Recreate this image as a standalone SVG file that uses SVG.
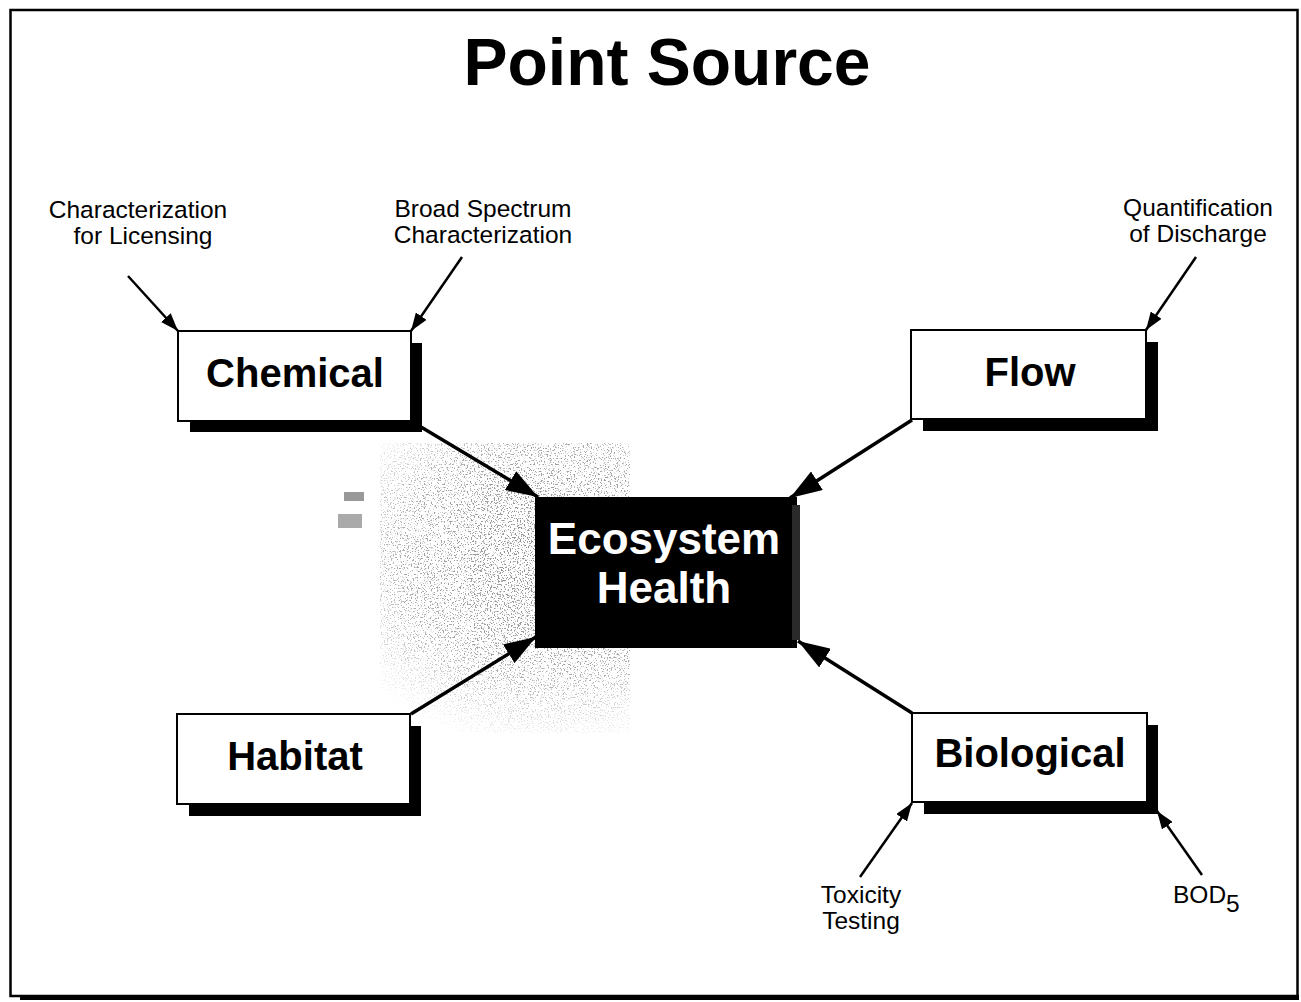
<svg xmlns="http://www.w3.org/2000/svg" width="1301" height="1002" viewBox="0 0 1301 1002">
  <style>
    .box { fill: #fff; stroke: #000; stroke-width: 2; }
    .shadow { fill: #000; }
    .label { font-family: "Liberation Sans", Arial, sans-serif; font-weight: bold; font-size: 40px; fill: #000; text-anchor: middle; }
    .note { font-family: "Liberation Sans", Arial, sans-serif; font-size: 24.5px; fill: #000; text-anchor: middle; }
    .main { stroke: #000; stroke-width: 3.5; fill: none; }
    .thin { stroke: #000; stroke-width: 2.5; fill: none; }
  </style>
  <defs>
    <marker id="bigHead" viewBox="0 0 32 22" refX="32" refY="11" markerWidth="32" markerHeight="22" markerUnits="userSpaceOnUse" orient="auto">
      <path d="M0,0 L32,11 L0,22 Z" fill="#000"/>
    </marker>
    <marker id="smallHead" viewBox="0 0 18 13" refX="18" refY="6.5" markerWidth="18" markerHeight="13" markerUnits="userSpaceOnUse" orient="auto">
      <path d="M0,0 L18,6.5 L0,13 Z" fill="#000"/>
    </marker>
    <filter id="grain" x="0" y="0" width="100%" height="100%">
      <feTurbulence type="fractalNoise" baseFrequency="0.7" numOctaves="2" seed="7" result="n"/>
      <feColorMatrix in="n" type="matrix" values="0 0 0 0 0.25  0 0 0 0 0.25  0 0 0 0 0.25  9 0 0 0 -5.1"/>
      <feComposite in2="SourceGraphic" operator="in"/>
    </filter>
    <radialGradient id="fade" cx="0.55" cy="0.4" r="0.6">
      <stop offset="0" stop-color="#fff" stop-opacity="1"/>
      <stop offset="0.6" stop-color="#fff" stop-opacity="0.75"/>
      <stop offset="1" stop-color="#fff" stop-opacity="0"/>
    </radialGradient>
    <mask id="fadeMask">
      <rect x="330" y="430" width="400" height="320" fill="url(#fade)"/>
    </mask>
  </defs>

  <rect width="1301" height="1002" fill="#fff"/>

  <!-- page frame -->
  <rect x="10.5" y="10" width="1287" height="986" fill="none" stroke="#000" stroke-width="2.5"/>
  <rect x="20" y="995" width="1279" height="5" fill="#000"/>

  <!-- grainy halftone patch behind the centre -->
  <g id="grain-patch" mask="url(#fadeMask)">
    <rect x="380" y="443" width="250" height="290" fill="#000" filter="url(#grain)"/>
    <rect x="470" y="470" width="90" height="180" fill="#000" filter="url(#grain)"/>
  </g>
  <rect x="344" y="492" width="20" height="9" fill="#999"/>
  <rect x="338" y="514" width="24" height="14" fill="#aaa"/>

  <text x="667" y="85" font-family="'Liberation Sans', Arial, sans-serif" font-weight="bold" font-size="66" text-anchor="middle">Point Source</text>

  <!-- connectors -->
  <g id="connectors">
    <line class="main" x1="411" y1="421" x2="538" y2="497" marker-end="url(#bigHead)"/>
    <line class="main" x1="912" y1="420" x2="790" y2="498" marker-end="url(#bigHead)"/>
    <line class="main" x1="411" y1="714" x2="536" y2="637" marker-end="url(#bigHead)"/>
    <line class="main" x1="912" y1="713" x2="798" y2="641" marker-end="url(#bigHead)"/>
    <line class="thin" x1="128" y1="276" x2="178" y2="331" marker-end="url(#smallHead)"/>
    <line class="thin" x1="462" y1="257" x2="411" y2="331" marker-end="url(#smallHead)"/>
    <line class="thin" x1="1196" y1="257" x2="1146" y2="330" marker-end="url(#smallHead)"/>
    <line class="thin" x1="860" y1="877" x2="912" y2="803" marker-end="url(#smallHead)"/>
    <line class="thin" x1="1202" y1="875" x2="1157" y2="811" marker-end="url(#smallHead)"/>
  </g>

  <!-- annotations -->
  <g id="notes">
    <text class="note" x="138" y="218">Characterization</text>
    <text class="note" x="143" y="244">for Licensing</text>
    <text class="note" x="483" y="217">Broad Spectrum</text>
    <text class="note" x="483" y="243">Characterization</text>
    <text class="note" x="1198" y="216">Quantification</text>
    <text class="note" x="1198" y="242">of Discharge</text>
    <text class="note" x="861" y="903">Toxicity</text>
    <text class="note" x="861" y="929">Testing</text>
    <text class="note" x="1173" y="903" style="text-anchor:start">BOD<tspan dy="9">5</tspan></text>
  </g>

  <g id="chemical">
    <rect class="shadow" x="190" y="343" width="232" height="89"/>
    <rect class="box" x="178" y="331" width="233" height="90"/>
    <text class="label" x="295" y="387">Chemical</text>
  </g>

  <g id="flow">
    <rect class="shadow" x="923" y="342" width="235" height="89"/>
    <rect class="box" x="911" y="330" width="235" height="89"/>
    <text class="label" x="1030" y="386">Flow</text>
  </g>

  <g id="habitat">
    <rect class="shadow" x="189" y="726" width="232" height="90"/>
    <rect class="box" x="177" y="714" width="233" height="90"/>
    <text class="label" x="295" y="770">Habitat</text>
  </g>

  <g id="biological">
    <rect class="shadow" x="924" y="725" width="234" height="89"/>
    <rect class="box" x="912" y="713" width="235" height="89"/>
    <text class="label" x="1030" y="767">Biological</text>
  </g>

  <g id="ecosystem-health">
    <rect x="535" y="497" width="262" height="151" fill="#000"/>
    <rect x="792" y="505" width="8" height="135" fill="#2a2a2a"/>
    <text class="label" x="664" y="554" style="font-size:44px;fill:#fff">Ecosystem</text>
    <text class="label" x="664" y="603" style="font-size:44px;fill:#fff">Health</text>
  </g>
</svg>
